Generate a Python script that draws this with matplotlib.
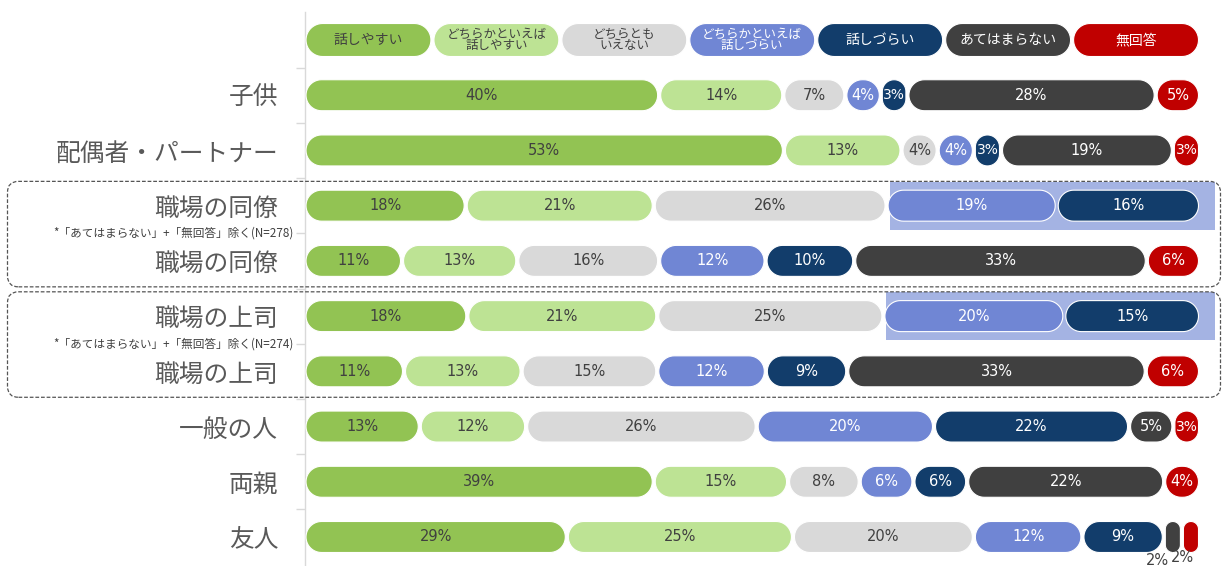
import matplotlib
matplotlib.use('Agg')
import matplotlib.pyplot as plt
import numpy as np
from matplotlib.patches import Polygon, Rectangle, FancyBboxPatch
from matplotlib.transforms import IdentityTransform

plt.rcParams['font.family'] = ['Noto Sans CJK JP', 'DejaVu Sans']

# ---------------- data ----------------
series_names = ['話しやすい', 'どちらかといえば\n話しやすい', 'どちらとも\nいえない',
                'どちらかといえば\n話しづらい', '話しづらい', 'あてはまらない', '無回答']
categories = ['子供', '配偶者・パートナー', '職場の同僚', '職場の同僚', '職場の上司',
              '職場の上司', '一般の人', '両親', '友人']
easy          = [40, 53, 18, 11, 18, 11, 13, 39, 29]
rather_easy   = [14, 13, 21, 13, 21, 13, 12, 15, 25]
neutral       = [7, 4, 26, 16, 25, 15, 26, 8, 20]
rather_hard   = [4, 4, 19, 12, 20, 12, 20, 6, 12]
hard          = [3, 3, 16, 10, 15, 9, 22, 6, 9]
not_applicable = [28, 19, 0, 33, 0, 33, 5, 22, 2]
no_answer     = [5, 3, 0, 6, 0, 6, 3, 4, 2]
notes = {2: '*「あてはまらない」+「無回答」除く(N=278)',
         4: '*「あてはまらない」+「無回答」除く(N=274)'}
highlight_rows = [2, 4]
boxed_groups = [(2, 3), (4, 5)]

values = np.array([easy, rather_easy, neutral, rather_hard, hard,
                   not_applicable, no_answer], dtype=float)

# ---------------- style ----------------
colors = ['#92c353', '#bde394', '#d9d9d9', '#7086d4', '#123d6b', '#404040', '#c00000']
text_colors = ['#404040', '#404040', '#404040', 'white', 'white', 'white', 'white']
hl_color = '#a4b3e3'

W, H = 1223, 566
fig = plt.figure(figsize=(W / 100, H / 100), dpi=100)
ax_left, ax_right = 304.5, 1200
ax_top, ax_bot = 12.4, 564.6
ax = fig.add_axes([ax_left / W, (H - ax_bot) / H, (ax_right - ax_left) / W, (ax_bot - ax_top) / H])
n_rows = len(categories) + 1
ax.set_xlim(0, 100)
ax.set_ylim(n_rows - 0.5, -0.5)

for s in ['top', 'right', 'bottom']:
    ax.spines[s].set_visible(False)
ax.spines['left'].set_color('#d9d9d9')
ax.spines['left'].set_linewidth(1.0)
ax.set_xticks([])
ax.set_yticks(np.arange(1, n_rows))
ax.set_yticklabels(categories, fontsize=17.8, color='#595959')
ax.tick_params(axis='y', which='major', length=0, pad=19)
ax.set_yticks(np.arange(0.5, n_rows - 0.5, 1.0), minor=True)
ax.tick_params(axis='y', which='minor', length=6.5, color='#d9d9d9', width=1.0)

sx = ax.transData.transform((1, 0))[0] - ax.transData.transform((0, 0))[0]
sy = abs(ax.transData.transform((0, 1))[1] - ax.transData.transform((0, 0))[1])


def capsule(x0, x1, yc, hpx, color, gap=1.5, z=3):
    wpx = (x1 - x0) * sx - 2 * gap
    if wpx <= 0:
        return
    r = min(wpx, hpx) / 2
    t = np.linspace(0, np.pi / 2, 14)
    cx = [wpx - r, r, r, wpx - r]
    cy = [hpx / 2 - r, hpx / 2 - r, -hpx / 2 + r, -hpx / 2 + r]
    start = [0, np.pi / 2, np.pi, 1.5 * np.pi]
    px, py = [], []
    for c in range(4):
        a = start[c] + t
        px.extend(cx[c] + r * np.cos(a))
        py.extend(cy[c] + r * np.sin(a))
    X = x0 + (gap + np.array(px)) / sx
    Y = yc + np.array(py) / sy
    ax.add_patch(Polygon(np.column_stack([X, Y]), closed=True, facecolor=color,
                         edgecolor='white', linewidth=0.8, zorder=z, clip_on=False))


# legend row
for i, name in enumerate(series_names):
    x0 = i * 100 / len(series_names)
    x1 = (i + 1) * 100 / len(series_names)
    capsule(x0, x1, 0, 33, colors[i], gap=1.5)
    two = '\n' in name
    ax.text((x0 + x1) / 2, 0, name, ha='center', va='center',
            fontsize=9.0 if two else 10.0, linespacing=0.88,
            color=text_colors[i], zorder=5)

# bars
bar_h = 31
below_offsets = [(-11, -17), (-6, -15)]
for r in range(len(categories)):
    yc = r + 1
    row = values[:, r]
    total = row.sum()
    widths = row / total * 100
    lefts = np.concatenate([[0], np.cumsum(widths)[:-1]])
    if r in highlight_rows:
        hx0 = lefts[3] + 3 / sx
        ax.add_patch(Rectangle((hx0, yc - 24 / sy), 100 + 15 / sx - hx0, 48 / sy,
                               facecolor=hl_color, edgecolor='none', zorder=1, clip_on=False))
    bcount = 0
    for k in range(len(row)):
        if row[k] <= 0:
            continue
        capsule(lefts[k], lefts[k] + widths[k], yc, bar_h, colors[k])
        wpx = widths[k] * sx
        cx = lefts[k] + widths[k] / 2
        label = f'{int(row[k])}%'
        if wpx < 22:
            dx, dy = below_offsets[bcount % 2]
            bcount += 1
            ax.annotate(label, (cx, yc), xytext=(dx, dy), textcoords='offset points',
                        ha='center', va='center', fontsize=10.5, color='#404040',
                        family='DejaVu Sans', zorder=5, annotation_clip=False)
        else:
            ax.text(cx, yc, label, ha='center', va='center',
                    fontsize=10.5 if wpx > 34 else 10.0, color=text_colors[k],
                    family='DejaVu Sans', zorder=5)

# notes next to boundary ticks
for r, note in notes.items():
    ax.annotate(note, (0, r + 1.5), xycoords=('axes fraction', 'data'),
                xytext=(-8, 0), textcoords='offset points', ha='right', va='center',
                fontsize=8.4, color='#404040', annotation_clip=False)

# dashed group boxes
for (ra, rb) in boxed_groups:
    ytop = ax.transData.transform((0, ra + 1 - 0.44))[1]
    ybot = ax.transData.transform((0, rb + 1 + 0.47))[1]
    x0d, x1d = 7.5, 1220.5
    box = FancyBboxPatch((x0d, ybot), x1d - x0d, ytop - ybot,
                         boxstyle='round,pad=0,rounding_size=11',
                         transform=IdentityTransform(), fill=False,
                         edgecolor='#555555', linewidth=0.9, linestyle=(0, (3, 1.5)))
    fig.add_artist(box)

fig.savefig('out.png', dpi=100)
